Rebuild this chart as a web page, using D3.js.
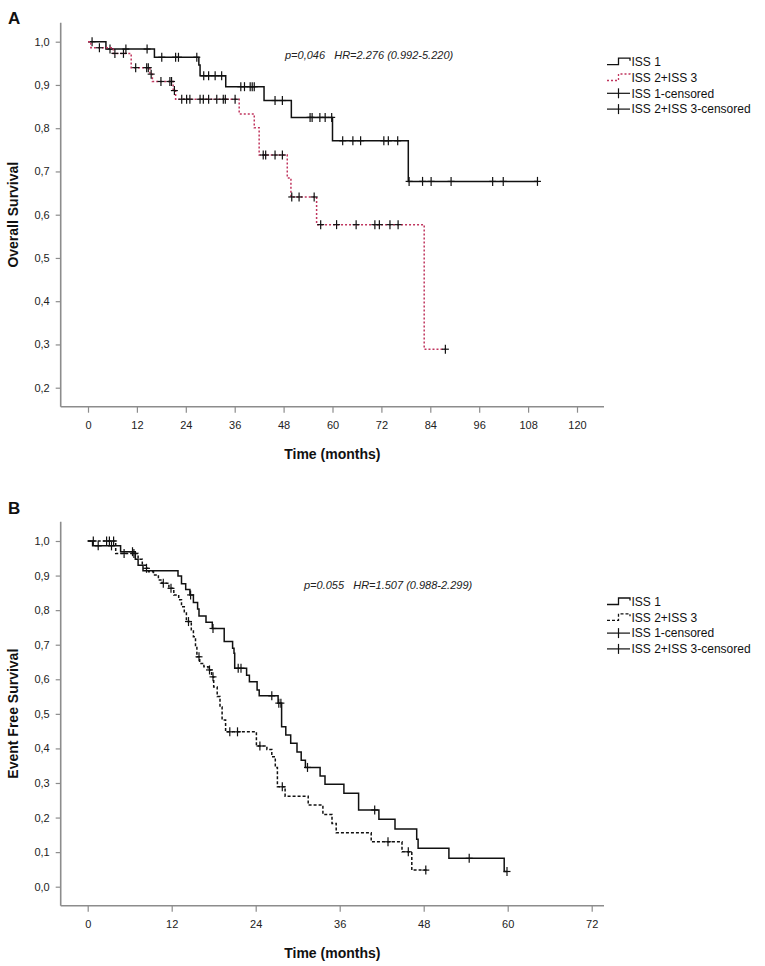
<!DOCTYPE html>
<html><head><meta charset="utf-8">
<script src="https://cdn.jsdelivr.net/npm/d3@7"></script>
<style>body{margin:0;background:#fff}svg{display:block;font-family:"Liberation Sans",Arial,sans-serif}</style>
</head><body><svg id="c" width="765" height="966"></svg>
<script>
// ---------- DATA ----------
const panelLabels = ["A", "B"];
const legendLabels = ["ISS 1", "ISS 2+ISS 3", "ISS 1-censored", "ISS 2+ISS 3-censored"];
const xTicksA = [0, 12, 24, 36, 48, 60, 72, 84, 96, 108, 120];
const yTicksA = [0.2, 0.3, 0.4, 0.5, 0.6, 0.7, 0.8, 0.9, 1.0];
const xTicksB = [0, 12, 24, 36, 48, 60, 72];
const yTicksB = [0.0, 0.1, 0.2, 0.3, 0.4, 0.5, 0.6, 0.7, 0.8, 0.9, 1.0];
const annotA = "p=0,046   HR=2.276 (0.992-5.220)";
const annotB = "p=0.055   HR=1.507 (0.988-2.299)";
const yTitleA = "Overall Survival";
const yTitleB = "Event Free Survival";
const xTitle = "Time (months)";

// Panel A – Overall survival: [time, survival] at each step
const osISS1 = [[0,1.0],[4.4,0.983],[16.3,0.964],[27.2,0.946],[27.5,0.921],[33.8,0.896],[43.2,0.864],[49.9,0.825],[60.0,0.771],[78.6,0.677]];
const osISS1End = 110.3;
const osISS1Cens = [1.0,5.4,9.3,14.5,18.1,21.5,22.2,26.7,28.4,29.6,31.2,32.8,37.5,38.4,39.8,40.3,40.8,45.9,47.7,54.5,55.0,56.9,58.2,59.8,62.5,65.0,66.9,72.6,73.7,76.0,78.8,82.1,84.2,89.1,99.3,101.9,110.3];
const osISS23 = [[0,1.0],[0.7,0.986],[6.2,0.973],[10.6,0.94],[15.2,0.925],[15.8,0.908],[20.9,0.887],[21.5,0.867],[37.1,0.833],[40.8,0.801],[42.0,0.738],[48.9,0.685],[49.8,0.641],[56.1,0.577],[82.5,0.289]];
const osISS23End = 87.7;
const osISS23Cens = [2.8,6.6,8.7,11.7,14.4,14.8,15.5,17.9,20.1,20.5,21.2,23.0,24.2,25.0,27.5,28.3,29.6,31.6,33.2,33.7,36.1,43.0,43.6,45.9,47.7,50.0,51.8,55.5,57.1,61.0,65.8,70.4,71.5,74.1,76.1,87.7];

// Panel B – Event free survival
const efsISS1 = [[0,1.0],[0.7,0.986],[4.7,0.969],[6.8,0.947],[7.2,0.93],[7.9,0.914],[12.9,0.899],[13.4,0.876],[14.0,0.86],[14.6,0.844],[15.1,0.822],[15.7,0.803],[15.9,0.783],[16.9,0.765],[17.8,0.747],[19.5,0.709],[20.7,0.69],[20.9,0.675],[21.0,0.632],[22.7,0.612],[23.1,0.593],[24.2,0.569],[24.5,0.552],[27.2,0.531],[27.7,0.463],[28.3,0.439],[29.0,0.415],[29.9,0.39],[30.5,0.366],[31.1,0.345],[33.2,0.32],[33.9,0.296],[36.6,0.27],[38.7,0.222],[41.6,0.195],[43.9,0.167],[47.0,0.137],[47.2,0.111],[51.6,0.082],[59.5,0.044]];
const efsISS1End = 59.9;
const efsISS1Cens = [1.5,3.4,6.4,14.7,17.9,21.5,21.9,26.3,27.3,27.6,31.4,41.0,54.5,59.9];
const efsISS23 = [[0,1.0],[4.0,0.964],[7.2,0.947],[7.8,0.93],[8.3,0.921],[8.7,0.911],[9.4,0.902],[10.1,0.887],[10.6,0.878],[11.6,0.863],[12.3,0.844],[13.0,0.83],[13.4,0.81],[13.8,0.795],[14.1,0.767],[14.8,0.743],[15.1,0.723],[15.4,0.694],[15.6,0.665],[16.0,0.646],[16.6,0.636],[17.2,0.627],[17.7,0.607],[18.0,0.578],[18.5,0.55],[18.9,0.52],[19.2,0.482],[19.7,0.448],[24.1,0.407],[25.6,0.397],[26.3,0.376],[26.8,0.345],[27.1,0.289],[28.2,0.262],[31.5,0.236],[33.6,0.209],[34.9,0.183],[35.5,0.156],[40.5,0.13],[44.9,0.101],[46.3,0.048]];
const efsISS23End = 48.6;
const efsISS23Cens = [0.8,2.7,3.1,3.7,5.2,6.6,8.4,10.8,11.9,14.4,15.9,17.4,17.9,20.3,21.4,24.6,27.8,42.9,45.8,48.3];

// ---------- DRAW ----------
const svg = d3.select("#c");
const AXIS = "#8c8c8c";
const RED = "#c0355e";
const fmt = v => d3.format(".1f")(v).replace(".", ",");

function survAt(steps, t){ let v = steps[0][1]; for (const s of steps) { if (s[0] <= t) v = s[1]; } return v; }

function panel(cfg){
  const g = svg.append("g");
  const x = d3.scaleLinear().domain(cfg.xDom).range(cfg.xRange);
  const y = d3.scaleLinear().domain(cfg.yDom).range(cfg.yRange);
  // axis lines
  g.append("line").attr("x1", cfg.axX).attr("x2", cfg.axX).attr("y1", cfg.axTop).attr("y2", cfg.axY)
    .attr("stroke", AXIS).attr("stroke-width", 1.6);
  g.append("line").attr("x1", cfg.axX).attr("x2", cfg.axRight).attr("y1", cfg.axY).attr("y2", cfg.axY)
    .attr("stroke", AXIS).attr("stroke-width", 1.6);
  const xa = g.append("g").attr("transform", `translate(0,${cfg.axY})`)
    .call(d3.axisBottom(x).tickValues(cfg.xTicks).tickSize(6).tickPadding(9).tickFormat(d3.format("d")));
  const ya = g.append("g").attr("transform", `translate(${cfg.axX},0)`)
    .call(d3.axisLeft(y).tickValues(cfg.yTicks).tickSize(5).tickPadding(6).tickFormat(fmt));
  [xa, ya].forEach(a => {
    a.select(".domain").remove();
    a.selectAll(".tick line").attr("stroke", AXIS).attr("stroke-width", 1.2);
    a.selectAll(".tick text").attr("fill", "#222").style("font-size", "11px").style("font-family", '"Liberation Sans",Arial,sans-serif');
  });
  // titles
  g.append("text").attr("x", 8).attr("y", cfg.letterY).text(cfg.letter)
    .style("font-size", "17px").style("font-weight", "bold").attr("fill", "#111");
  g.append("text").attr("transform", `translate(17.5,${(cfg.axTop + cfg.axY) / 2}) rotate(-90)`)
    .attr("text-anchor", "middle").text(cfg.yTitle).style("font-size", "14px").style("font-weight", "bold").attr("fill", "#111");
  g.append("text").attr("x", (cfg.axX + cfg.axRight) / 2).attr("y", cfg.xTitleY).attr("text-anchor", "middle")
    .text(xTitle).style("font-size", "14px").style("font-weight", "bold").attr("fill", "#111");
  g.append("text").attr("x", cfg.annX).attr("y", cfg.annY).text(cfg.annot)
    .style("font-size", "11px").style("font-style", "italic").style("white-space", "pre").attr("fill", "#222");

  const line = d3.line().x(d => x(d[0])).y(d => y(d[1])).curve(d3.curveStepAfter);
  cfg.curves.forEach(c => {
    const pts = c.steps.concat([[c.end, c.steps[c.steps.length - 1][1]]]);
    g.append("path").attr("d", line(pts)).attr("fill", "none").attr("stroke", c.color)
      .attr("stroke-width", 1.5).attr("stroke-dasharray", c.dash || null);
    const cg = g.append("g");
    c.cens.forEach(t => {
      const cx = x(t), cy = y(survAt(c.steps, t));
      cg.append("line").attr("x1", cx).attr("x2", cx).attr("y1", cy - 4.5).attr("y2", cy + 4.5).attr("stroke", "#111").attr("stroke-width", 1.2);
      cg.append("line").attr("x1", cx - 3.5).attr("x2", cx + 3.5).attr("y1", cy).attr("y2", cy).attr("stroke", "#111").attr("stroke-width", 1.2);
    });
  });

  // legend
  const lg = g.append("g");
  const lx0 = 607, lx1 = 618.5, lx2 = 630;
  legendLabels.forEach((lab, i) => {
    const cy = cfg.legY + i * 15.8;
    if (i < 2) {
      lg.append("path").attr("d", `M${lx0},${cy + 3}H${lx1}V${cy - 3.5}H${lx2}V${cy - 1}`)
        .attr("fill", "none").attr("stroke", cfg.curves[i].color).attr("stroke-width", 1.3)
        .attr("stroke-dasharray", cfg.curves[i].dash || null);
    } else {
      lg.append("line").attr("x1", lx0).attr("x2", lx2).attr("y1", cy).attr("y2", cy).attr("stroke", "#111").attr("stroke-width", 1.2);
      lg.append("line").attr("x1", lx1).attr("x2", lx1).attr("y1", cy - 5).attr("y2", cy + 5).attr("stroke", "#111").attr("stroke-width", 1.2);
    }
    lg.append("text").attr("x", 631.5).attr("y", cy).attr("dy", "0.36em").text(lab)
      .style("font-size", "12px").attr("fill", "#111");
  });
}

panel({
  letter: panelLabels[0], letterY: 24,
  xDom: [0, 120], xRange: [88, 577], yDom: [0.2, 1.0], yRange: [387.7, 41.7],
  axX: 60.7, axTop: 22.7, axY: 406.7, axRight: 604,
  xTicks: xTicksA, yTicks: yTicksA, yTitle: yTitleA, xTitleY: 458.5,
  annot: annotA, annX: 285, annY: 59.3, legY: 61.7,
  curves: [
    {steps: osISS1, end: osISS1End, cens: osISS1Cens, color: "#111"},
    {steps: osISS23, end: osISS23End, cens: osISS23Cens, color: RED, dash: "2,2"}
  ]
});
panel({
  letter: panelLabels[1], letterY: 514,
  xDom: [0, 72], xRange: [87.7, 591.7], yDom: [0, 1.0], yRange: [886.7, 541],
  axX: 60.7, axTop: 521.7, axY: 905.7, axRight: 604,
  xTicks: xTicksB, yTicks: yTicksB, yTitle: yTitleB, xTitleY: 957.5,
  annot: annotB, annX: 304, annY: 589.3, legY: 601.5,
  curves: [
    {steps: efsISS1, end: efsISS1End, cens: efsISS1Cens, color: "#111"},
    {steps: efsISS23, end: efsISS23End, cens: efsISS23Cens, color: "#111", dash: "3,2"}
  ]
});
</script></body></html>
